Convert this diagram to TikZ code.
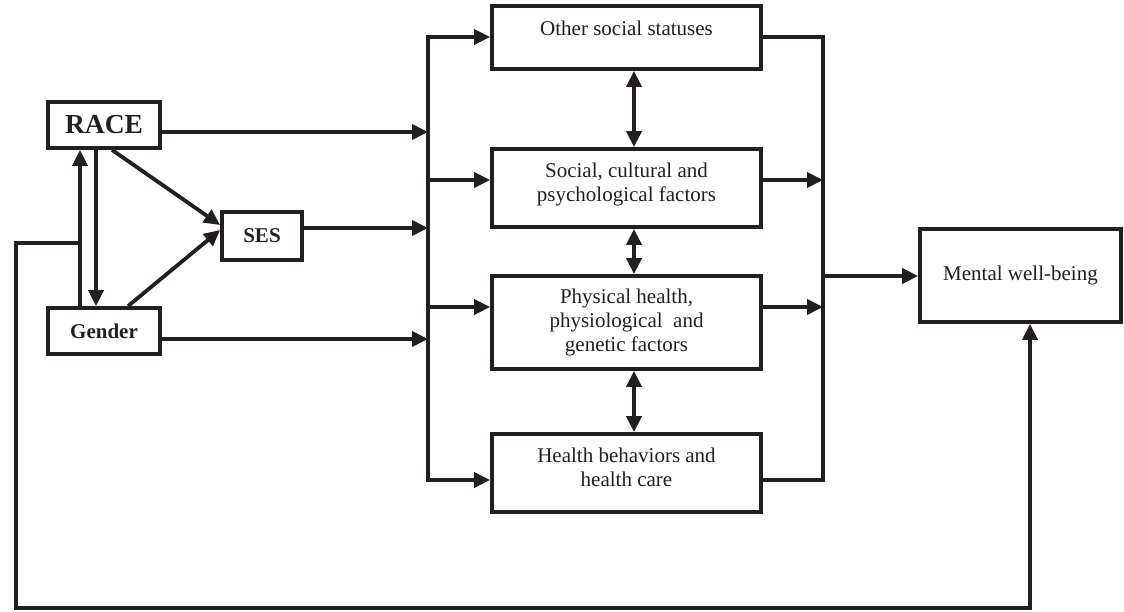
\documentclass[tikz,border=0pt]{standalone}
\usepackage{fontspec}
\setmainfont{Liberation Serif}
\usetikzlibrary{arrows.meta}
\definecolor{ink}{HTML}{231F20}
\begin{document}
\begin{tikzpicture}[x=0.5pt,y=-0.5pt,
  line/.style={draw=ink,line width=1.9pt},
  arr/.style={line,-{Triangle[length=8pt,width=7.5pt]}},
  darr/.style={line,{Triangle[length=8pt,width=7.5pt]}-{Triangle[length=8pt,width=7.5pt]}},
  box/.style={draw=ink,line width=1.9pt,inner sep=0pt,text=ink,align=center,font=\fontsize{10.5}{12}\selectfont},
  txt/.style={inner sep=0pt,text=ink,align=center,font=\fontsize{10.5}{12}\selectfont}]
\useasboundingbox[fill=white] (0,0) rectangle (1124,611);

% boxes
\node[box,minimum width=56pt,minimum height=23pt,font=\fontsize{13.75}{15}\selectfont\bfseries] (race) at (104,125) {RACE};
\node[box,minimum width=56pt,minimum height=23pt,font=\fontsize{10.5}{12}\selectfont\bfseries] (gender) at (104,331) {Gender};
\node[box,minimum width=40pt,minimum height=24pt,font=\fontsize{10.5}{12}\selectfont\bfseries] (ses) at (262,236) {SES};
\node[box,minimum width=134.5pt,minimum height=31.5pt] (other) at (626.5,37.5) {};
\node[txt] (otherT) at (626.5,28) {Other social statuses};
\node[box,minimum width=134.5pt,minimum height=39pt] (social) at (626.5,188) {};
\node[txt] (socialT) at (626.5,184) {Social, cultural and\\psychological factors};
\node[box,minimum width=134.5pt,minimum height=46.5pt] (phys) at (626.5,322.5) {Physical health,\\physiological\ \ and\\genetic factors};
\node[box,minimum width=134.5pt,minimum height=39pt] (health) at (626.5,473) {};
\node[txt] (healthT) at (626.5,467) {Health behaviors and\\health care};
\node[box,minimum width=100.5pt,minimum height=46.5pt] (mental) at (1020.5,275.5) {Mental well-being};

% bus coordinates
\coordinate (lbT) at (428,37);
\coordinate (lbB) at (428,480);
\coordinate (lbS) at (428,180);
\coordinate (lbP) at (428,307);
\coordinate (rbT) at (823,37);
\coordinate (rbB) at (823,480);
\coordinate (rbS) at (823,180);
\coordinate (rbP) at (823,307);
\coordinate (rbM) at (823,276);

% left bus
\draw[darr] (lbT -| other.west) -- (lbT) -- (lbB) -- (lbB -| health.west);
\draw[arr] (lbS) -- (lbS -| social.west);
\draw[arr] (lbP) -- (lbP -| phys.west);

% inputs to left bus
\coordinate (raceR) at ([yshift=-3.5pt]race.east);
\coordinate (sesR) at ([yshift=4pt]ses.east);
\coordinate (genderR) at ([yshift=-4pt]gender.east);
\draw[arr] (raceR) -- (raceR -| lbT);
\draw[arr] (sesR) -- (sesR -| lbT);
\draw[arr] (genderR) -- (genderR -| lbT);

% race <-> gender
\draw[arr] ([xshift=-12pt]gender.north) -- ([xshift=-12pt]race.south);
\draw[arr] ([xshift=-4pt]race.south) -- ([xshift=-4pt]gender.north);

% to SES
\draw[arr] ([xshift=4pt]race.south) -- ([yshift=5.5pt]ses.west);
\draw[arr] ([xshift=12pt]gender.north) -- ([yshift=3pt]ses.west);

% double arrows between factor boxes
\draw[darr] ([xshift=3.75pt]other.south) -- ([xshift=3.75pt]social.north);
\draw[darr] ([xshift=3.75pt]social.south) -- ([xshift=3.75pt]phys.north);
\draw[darr] ([xshift=3.75pt]phys.south) -- ([xshift=3.75pt]health.north);

% right bus
\draw[line] (rbT -| other.east) -- (rbT) -- (rbB) -- (rbB -| health.east);
\draw[arr] (rbS -| social.east) -- (rbS);
\draw[arr] (rbP -| phys.east) -- (rbP);
\draw[arr] (rbM) -- (rbM -| mental.west);

% feedback loop
\coordinate (fbA) at (80,243);
\coordinate (fbB) at (16,243);
\coordinate (fbC) at (16,608);
\coordinate (fbD) at (1030,608);
\draw[arr] (fbA) -- (fbB) -- (fbC) -- (fbD) -- (fbD |- mental.south);
\end{tikzpicture}
\end{document}
